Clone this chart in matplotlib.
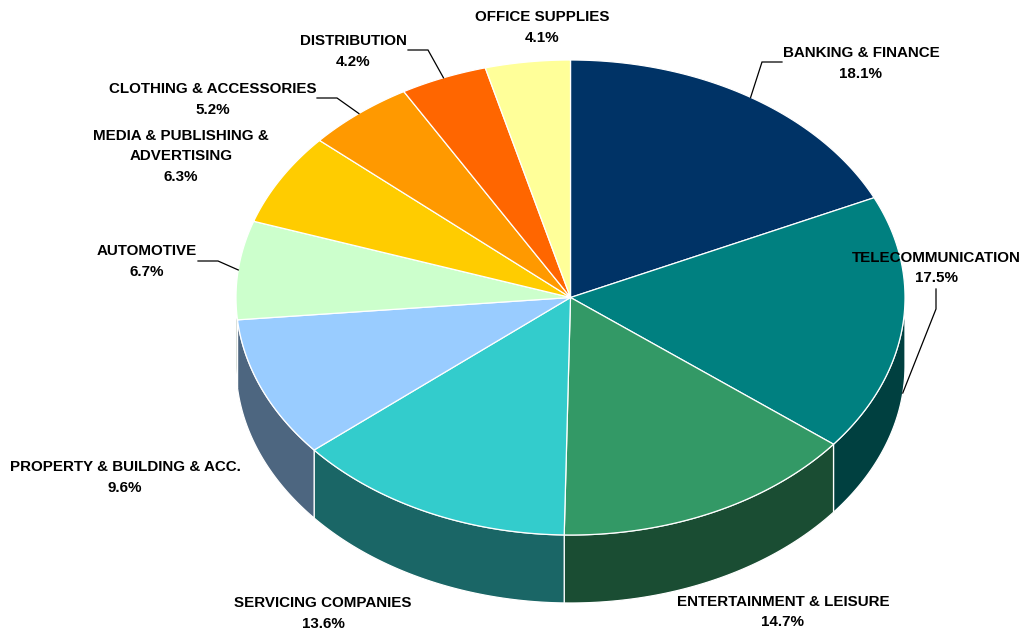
import numpy as np
import matplotlib
matplotlib.use("Agg")
import matplotlib.pyplot as plt
from matplotlib.patches import Polygon

# ---------------- data ----------------
categories = ["BANKING & FINANCE", "TELECOMMUNICATION", "ENTERTAINMENT & LEISURE",
              "SERVICING COMPANIES", "PROPERTY & BUILDING & ACC.", "AUTOMOTIVE",
              "MEDIA & PUBLISHING &\nADVERTISING", "CLOTHING & ACCESSORIES",
              "DISTRIBUTION", "OFFICE SUPPLIES"]
shares = [18.1, 17.5, 14.7, 13.6, 9.6, 6.7, 6.3, 5.2, 4.2, 4.1]
top_colors = ["#003366", "#008080", "#339966", "#33CCCC", "#99CCFF",
              "#CCFFCC", "#FFCC00", "#FF9900", "#FF6600", "#FFFF99"]

# ---------------- layout ----------------
W, H = 1025, 631
cx, cy, rx, ry, depth = 570.5, 297.5, 334.5, 237.5, 68
# label block: (x center, y of first line)
label_pos = [(861, 53), (936, 258), (783, 602), (323, 603), (125, 467),
             (147, 251), (181, 136), (213, 89), (353, 41), (542, 17)]
# leader elbow points (None = no leader); anchor on pie computed from data
leaders = [[(762, 62), (782, 62)], [(936, 309), (936, 289)], None, None, None,
           [(218, 261), (198, 261)], None, [(337, 98), (317, 98)],
           [(428, 50), (408, 50)], None]
line_step = 20.5


def darker(c, f=0.5):
    r, g, b = matplotlib.colors.to_rgb(c)
    return (r * f, g * f, b * f)


def pt(theta_deg, dz=0.0):
    t = np.radians(theta_deg)
    return cx + rx * np.cos(t), cy - ry * np.sin(t) + dz


fig = plt.figure(figsize=(W / 100, H / 100), dpi=100)
ax = fig.add_axes([0, 0, 1, 1])
ax.set_xlim(0, W)
ax.set_ylim(H, 0)
ax.axis("off")

total = sum(shares)
cum = np.concatenate([[0], np.cumsum(shares)])
t_start = 90 - cum[:-1] / total * 360
t_end = 90 - cum[1:] / total * 360
t_mid = (t_start + t_end) / 2

# side walls (front half: angles between -180 and 0)
for i in range(len(shares)):
    a1 = min(t_start[i], 0)
    a2 = max(t_end[i], -180)
    if a1 <= a2:
        continue
    ts = np.linspace(a1, a2, 80)
    top = [pt(t) for t in ts]
    bot = [pt(t, depth) for t in ts[::-1]]
    poly = Polygon(top + bot, closed=True, facecolor=darker(top_colors[i]),
                   edgecolor="white", linewidth=0.9, joinstyle="round")
    ax.add_patch(poly)

# top faces
for i in range(len(shares)):
    ts = np.linspace(t_start[i], t_end[i], 200)
    verts = [(cx, cy)] + [pt(t) for t in ts]
    poly = Polygon(verts, closed=True, facecolor=top_colors[i],
                   edgecolor="white", linewidth=0.9, joinstyle="round")
    ax.add_patch(poly)

# labels
for i, cat in enumerate(categories):
    lines = cat.split("\n") + [f"{shares[i]:.1f}%"]
    x0, y0 = label_pos[i]
    for k, s in enumerate(lines):
        ax.text(x0, y0 + k * line_step, s, ha="center", va="center",
                fontsize=10.9, fontweight="bold", family="Liberation Sans",
                color="black")
    if leaders[i] is not None:
        tm = t_mid[i]
        dz = depth if np.sin(np.radians(tm)) < 0 and abs(np.cos(np.radians(tm))) > 0.5 and tm > -90 else 0
        ax_pt = pt(tm, dz)
        pts = [ax_pt] + leaders[i]
        ax.plot([p[0] for p in pts], [p[1] for p in pts], color="black",
                linewidth=0.9, solid_joinstyle="miter")

fig.savefig("out.png", dpi=100)
